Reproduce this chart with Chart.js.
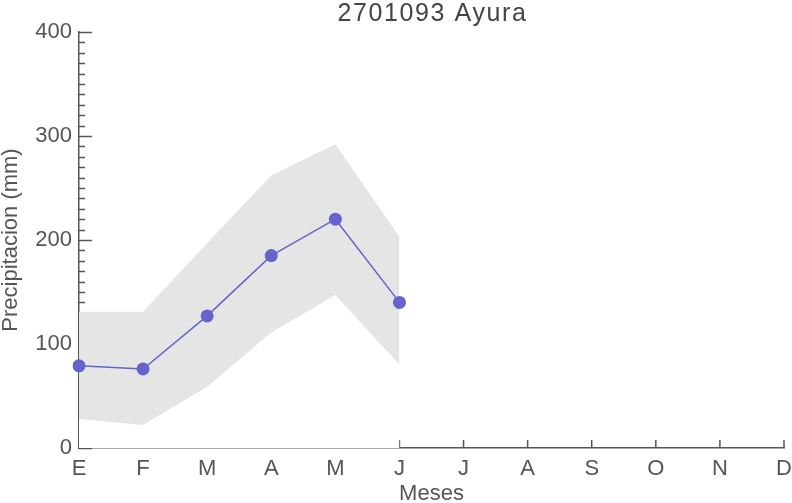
<!DOCTYPE html>
<html><head><meta charset="utf-8">
<script src="https://cdn.jsdelivr.net/npm/chart.js@4/dist/chart.umd.min.js"></script>
<style>html,body{margin:0;padding:0;background:#fff}#wrap{width:792px;height:503px}</style>
</head><body><div id="wrap"><canvas id="c" width="792" height="503"></canvas></div>
<script>
const months = ['E','F','M','A','M','J','J','A','S','O','N','D'];
const meanValues = [79, 76, 127, 185, 220, 140, null, null, null, null, null, null];
const upperValues = [131, 131, 197, 262, 292, 203, null, null, null, null, null, null];
const lowerValues = [28, 22, 59, 111, 147, 80, null, null, null, null, null, null];
const yTickValues = [0, 100, 200, 300, 400];
const chartTitle = '2701093 Ayura';

const axisColor = '#555';
const fontFamily = '"Liberation Sans", Arial, sans-serif';

const tickPlugin = {
  id: 'inwardTicks',
  beforeDatasetsDraw(chart) {
    const ctx = chart.ctx, ys = chart.scales.y, xs = chart.scales.x, a = chart.chartArea;
    ctx.save();
    ctx.strokeStyle = axisColor;
    ctx.lineWidth = 1.5;
    ctx.beginPath();
    for (let v = ys.min; v <= ys.max; v += 10) {
      const y = Math.round(ys.getPixelForValue(v)) + 0.5;
      const len = (v % 100 === 0) ? 13 : 6;
      ctx.moveTo(a.left, y); ctx.lineTo(a.left + len, y);
    }
    for (let i = 0; i < months.length; i++) {
      const x = xs.getPixelForValue(i);
      ctx.moveTo(x, a.bottom); ctx.lineTo(x, a.bottom - 8);
    }
    ctx.stroke();
    ctx.restore();
  },
  afterDraw(chart) {
    const ctx = chart.ctx, a = chart.chartArea;
    ctx.save();
    ctx.fillStyle = '#444';
    ctx.font = '25px ' + fontFamily;
    ctx.textAlign = 'center';
    ctx.textBaseline = 'middle';
    ctx.letterSpacing = '1.6px';
    ctx.fillText(chartTitle, (a.left + a.right) / 2 + 1, 14);
    ctx.restore();
  }
};

new Chart(document.getElementById('c'), {
  type: 'line',
  data: {
    labels: months,
    datasets: [
      { label: 'Media', data: meanValues, borderColor: '#6464cc', backgroundColor: '#6464cc',
        borderWidth: 1.5, pointRadius: 6.5, pointHoverRadius: 6.5, pointBorderWidth: 0, tension: 0, fill: false },
      { label: 'Superior', data: upperValues, borderWidth: 0, pointRadius: 0, borderColor: 'rgba(0,0,0,0)',
        backgroundColor: '#e5e5e5', fill: 2, tension: 0 },
      { label: 'Inferior', data: lowerValues, borderWidth: 0, pointRadius: 0, borderColor: 'rgba(0,0,0,0)',
        backgroundColor: '#ffffff', fill: 'origin', tension: 0 }
    ]
  },
  options: {
    responsive: false,
    animation: false,
    events: [],
    layout: { padding: { right: 8, left: 0, top: 32, bottom: 0 } },
    plugins: {
      legend: { display: false },
      tooltip: { enabled: false },
      title: { display: false }
    },
    scales: {
      x: {
        type: 'category',
        offset: false,
        grid: { display: false, drawTicks: false },
        border: { display: true, color: axisColor, width: 1.5 },
        ticks: { color: axisColor, font: { family: fontFamily, size: 22 }, padding: 8, autoSkip: false, maxRotation: 0 },
        title: { display: true, text: 'Meses', color: axisColor, font: { family: fontFamily, size: 22 }, padding: { top: 0, bottom: -4 } },
        afterFit(s) { s.height = 55; s.paddingRight = 0; s.paddingLeft = 0; }
      },
      y: {
        min: 0, max: 400,
        afterBuildTicks(s) { s.ticks = yTickValues.map(v => ({ value: v })); },
        grid: { display: false, drawTicks: false },
        border: { display: true, color: axisColor, width: 1.5 },
        ticks: { color: axisColor, font: { family: fontFamily, size: 22 }, padding: 7 },
        title: { display: true, text: 'Precipitacion (mm)', color: axisColor, font: { family: fontFamily, size: 22 }, padding: { top: -2, bottom: 0 } },
        afterFit(s) { s.width = 79; s.paddingTop = 0; s.paddingBottom = 0; }
      }
    }
  },
  plugins: [tickPlugin]
});
</script></body></html>
